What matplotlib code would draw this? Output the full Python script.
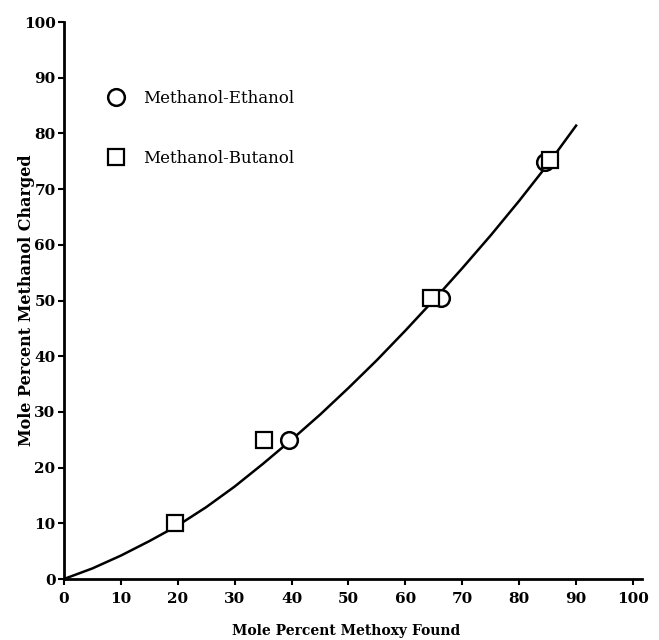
import matplotlib
matplotlib.use("Agg")
import matplotlib.pyplot as plt

# smooth calibration curve
curve_x = [0, 5, 10, 15, 20, 25, 30, 35, 40, 45, 50, 55, 60, 65, 70, 75, 80, 85, 90]
curve_y = [0, 1.9, 4.2, 6.8, 9.6, 12.9, 16.6, 20.7, 25, 29.5, 34.3, 39.3, 44.6,
           50.1, 55.8, 61.7, 67.9, 74.4, 81.4]

# Methanol-Ethanol (circles)
eth_x = [39.5, 66.3, 84.6]
eth_y = [25, 50.4, 74.8]

# Methanol-Butanol (squares)
but_x = [19.5, 35.2, 64.5, 85.4]
but_y = [10, 25, 50.4, 75.2]

ticks = [0, 10, 20, 30, 40, 50, 60, 70, 80, 90, 100]

fig = plt.figure(figsize=(6.59, 6.40), dpi=100)
ax = fig.add_axes([0.097, 0.0953, 0.8765, 0.8703])

ax.plot(curve_x, curve_y, color="black", lw=1.8, zorder=2)
ax.plot(eth_x, eth_y, linestyle="none", marker="o", ms=12, mfc="white",
        mec="black", mew=1.8, zorder=3, label="Methanol-Ethanol")
ax.plot(but_x, but_y, linestyle="none", marker="s", ms=11, mfc="white",
        mec="black", mew=1.6, zorder=3, label="Methanol-Butanol")

ax.set_xlim(0, 101.5)
ax.set_ylim(0, 100)
ax.set_xticks(ticks)
ax.set_yticks(ticks)
ax.spines["top"].set_visible(False)
ax.spines["right"].set_visible(False)
ax.spines["left"].set_linewidth(2)
ax.spines["bottom"].set_linewidth(2)
ax.tick_params(direction="out", length=4, width=1.5)
ax.tick_params(axis="x", pad=5)
ax.tick_params(axis="y", pad=2)
for lab in ax.get_xticklabels() + ax.get_yticklabels():
    lab.set_fontfamily("DejaVu Serif")
    lab.set_fontweight("bold")
    lab.set_fontsize(11)

ax.set_xlabel("Mole Percent Methoxy Found", family="DejaVu Serif",
              weight="bold", fontsize=10)
ax.xaxis.set_label_coords(0.488, -0.081)
ax.set_ylabel("Mole Percent Methanol Charged", family="DejaVu Serif",
              weight="bold", fontsize=11.5)
ax.yaxis.set_label_coords(-0.05, 0.5)

ax.legend(loc="upper left", bbox_to_anchor=(0.045, 0.905), frameon=False,
          prop={"family": "DejaVu Serif", "size": 12}, labelspacing=2.6,
          handletextpad=1.0, handlelength=1.3)

fig.savefig("out.png", dpi=100)
